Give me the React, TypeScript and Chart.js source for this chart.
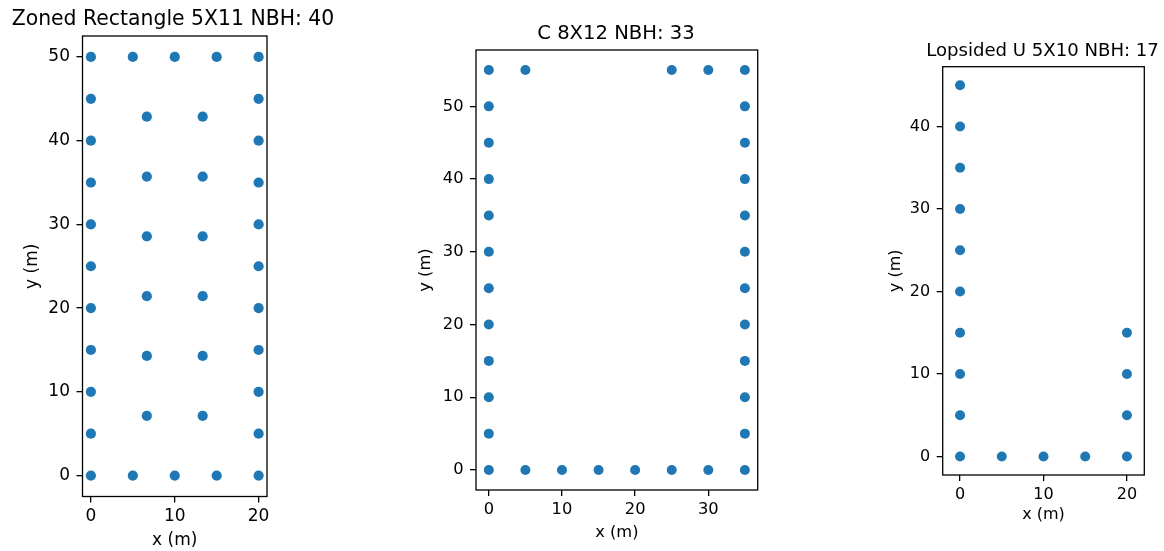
import React, { useEffect, useRef } from "react";
import { Chart, registerables } from "chart.js";

Chart.register(...registerables);

// ---------- DATA ----------
const zonedTitle = "Zoned Rectangle 5X11 NBH: 40";
const zonedX = [
  0, 5, 10, 15, 20,
  0, 5, 10, 15, 20,
  0, 0, 0, 0, 0, 0, 0, 0, 0,
  20, 20, 20, 20, 20, 20, 20, 20, 20,
  6.67, 13.33, 6.67, 13.33, 6.67, 13.33, 6.67, 13.33, 6.67, 13.33, 6.67, 13.33,
];
const zonedY = [
  0, 0, 0, 0, 0,
  50, 50, 50, 50, 50,
  5, 10, 15, 20, 25, 30, 35, 40, 45,
  5, 10, 15, 20, 25, 30, 35, 40, 45,
  7.14, 7.14, 14.29, 14.29, 21.43, 21.43, 28.57, 28.57, 35.71, 35.71, 42.86, 42.86,
];
const zonedXTicks = [0, 10, 20];
const zonedYTicks = [0, 10, 20, 30, 40, 50];

const cTitle = "C 8X12 NBH: 33";
const cX = [
  0, 5, 10, 15, 20, 25, 30, 35,
  0, 5, 25, 30, 35,
  0, 0, 0, 0, 0, 0, 0, 0, 0, 0,
  35, 35, 35, 35, 35, 35, 35, 35, 35, 35,
];
const cY = [
  0, 0, 0, 0, 0, 0, 0, 0,
  55, 55, 55, 55, 55,
  5, 10, 15, 20, 25, 30, 35, 40, 45, 50,
  5, 10, 15, 20, 25, 30, 35, 40, 45, 50,
];
const cXTicks = [0, 10, 20, 30];
const cYTicks = [0, 10, 20, 30, 40, 50];

const uTitle = "Lopsided U 5X10 NBH: 17";
const uX = [
  0, 0, 0, 0, 0, 0, 0, 0, 0, 0,
  5, 10, 15,
  20, 20, 20, 20,
];
const uY = [
  0, 5, 10, 15, 20, 25, 30, 35, 40, 45,
  0, 0, 0,
  0, 5, 10, 15,
];
const uXTicks = [0, 10, 20];
const uYTicks = [0, 10, 20, 30, 40];

const xLabel = "x (m)";
const yLabel = "y (m)";

// ---------- LAYOUT / STYLE ----------
const FONT = "'DejaVu Sans', sans-serif";
const BLUE = "#1f77b4";
const H = 551;

type Panel = {
  title: string;
  xs: number[];
  ys: number[];
  xTicks: number[];
  yTicks: number[];
  xRange: [number, number];
  yRange: [number, number];
  cx: number;
  cw: number;
  L: number;
  R: number;
  T: number;
  B: number;
  titleSize: number;
  textSize: number;
  titleMid: number;
  xTitleMid: number;
  yTitleMid: number;
  radius: number;
};

const panels: Panel[] = [
  {
    title: zonedTitle, xs: zonedX, ys: zonedY, xTicks: zonedXTicks, yTicks: zonedYTicks,
    xRange: [-1, 21], yRange: [-2.5, 52.5],
    cx: 0, cw: 346, L: 82.5, R: 267, T: 36, B: 496.5,
    titleSize: 20.4, textSize: 17, titleMid: 19.6, xTitleMid: 540.5, yTitleMid: 32.7,
    radius: 5.1,
  },
  {
    title: cTitle, xs: cX, ys: cY, xTicks: cXTicks, yTicks: cYTicks,
    xRange: [-1.75, 36.75], yRange: [-2.75, 57.75],
    cx: 400, cw: 432, L: 476, R: 757.7, T: 50, B: 490,
    titleSize: 19.6, textSize: 16.3, titleMid: 33.5, xTitleMid: 532.7, yTitleMid: 425.8,
    radius: 5,
  },
  {
    title: uTitle, xs: uX, ys: uY, xTicks: uXTicks, yTicks: uYTicks,
    xRange: [-2.08, 22.08], yRange: [-2.25, 47.25],
    cx: 870, cw: 345, L: 942.7, R: 1144.3, T: 66.7, B: 475,
    titleSize: 18.1, textSize: 16, titleMid: 51.6, xTitleMid: 515, yTitleMid: 895.8,
    radius: 5,
  },
];

const framePlugin = {
  id: "frame",
  afterDraw(chart: any) {
    const { ctx, chartArea } = chart;
    ctx.save();
    ctx.strokeStyle = "#000";
    ctx.lineWidth = 1.3;
    ctx.strokeRect(
      chartArea.left,
      chartArea.top,
      chartArea.right - chartArea.left,
      chartArea.bottom - chartArea.top
    );
    ctx.restore();
  },
};

function ScatterPanel({ p }: { p: Panel }) {
  const ref = useRef<HTMLCanvasElement | null>(null);
  useEffect(() => {
    if (!ref.current) return;
    const titleLH = p.titleSize * 1.2;
    const titlePadTop = p.titleMid - titleLH / 2;
    const titlePadBottom = p.T - titleLH - titlePadTop;
    const textLH = p.textSize * 1.2;
    const xTitlePadBottom = H - p.xTitleMid - textLH / 2;
    const yTitlePadTop = p.yTitleMid - p.cx - textLH / 2;
    const tickCommon = {
      drawOnChartArea: false,
      drawTicks: true,
      tickLength: 6,
      tickWidth: 1.3,
      tickColor: "#000",
      color: "#000",
      lineWidth: 1.3,
    };
    const textFont = { family: FONT, size: p.textSize, lineHeight: 1.2 };
    const chart = new Chart(ref.current, {
      type: "scatter",
      data: {
        datasets: [
          {
            data: p.xs.map((x, i) => ({ x, y: p.ys[i] })),
            backgroundColor: BLUE,
            borderColor: BLUE,
            borderWidth: 0,
            pointRadius: p.radius,
            pointHoverRadius: p.radius,
          },
        ],
      },
      options: {
        animation: false,
        responsive: false,
        events: [],
        layout: { padding: 0 },
        plugins: {
          legend: { display: false },
          tooltip: { enabled: false },
          title: {
            display: true,
            text: p.title,
            color: "#000",
            fullSize: true,
            font: { family: FONT, size: p.titleSize, weight: "normal", lineHeight: 1.2 },
            padding: { top: titlePadTop, bottom: titlePadBottom },
          },
        },
        scales: {
          x: {
            type: "linear",
            position: "bottom",
            min: p.xRange[0],
            max: p.xRange[1],
            afterBuildTicks: (s: any) => {
              s.ticks = p.xTicks.map((v) => ({ value: v }));
            },
            afterFit: (s: any) => {
              s.height = H - p.B;
            },
            grid: tickCommon,
            border: { display: false },
            ticks: {
              color: "#000",
              font: textFont,
              padding: 4,
              maxRotation: 0,
              autoSkip: false,
              callback: (v: any) => String(v),
            },
            title: {
              display: true,
              text: xLabel,
              color: "#000",
              font: textFont,
              padding: { top: 0, bottom: xTitlePadBottom },
            },
          },
          y: {
            type: "linear",
            position: "left",
            min: p.yRange[0],
            max: p.yRange[1],
            afterBuildTicks: (s: any) => {
              s.ticks = p.yTicks.map((v) => ({ value: v }));
            },
            afterFit: (s: any) => {
              s.width = p.L - p.cx;
            },
            grid: tickCommon,
            border: { display: false },
            ticks: {
              color: "#000",
              font: textFont,
              padding: 6.5,
              autoSkip: false,
              callback: (v: any) => String(v),
            },
            title: {
              display: true,
              text: yLabel,
              color: "#000",
              font: textFont,
              padding: { top: yTitlePadTop, bottom: 0 },
            },
          },
          y2: {
            type: "linear",
            position: "right",
            min: 0,
            max: 1,
            grid: { display: false },
            border: { display: false },
            ticks: { display: false },
            afterFit: (s: any) => {
              s.width = p.cx + p.cw - p.R;
            },
          },
        },
      } as any,
      plugins: [framePlugin],
    });
    return () => chart.destroy();
  }, [p]);
  return (
    <canvas
      ref={ref}
      width={p.cw}
      height={H}
      style={{ position: "absolute", left: p.cx, top: 0, width: p.cw, height: H }}
    />
  );
}

export default function App() {
  return (
    <div
      style={{
        position: "absolute",
        left: 0,
        top: 0,
        width: 1164,
        height: H,
        overflow: "hidden",
        background: "#fff",
      }}
    >
      {panels.map((p, i) => (
        <ScatterPanel key={i} p={p} />
      ))}
    </div>
  );
}
